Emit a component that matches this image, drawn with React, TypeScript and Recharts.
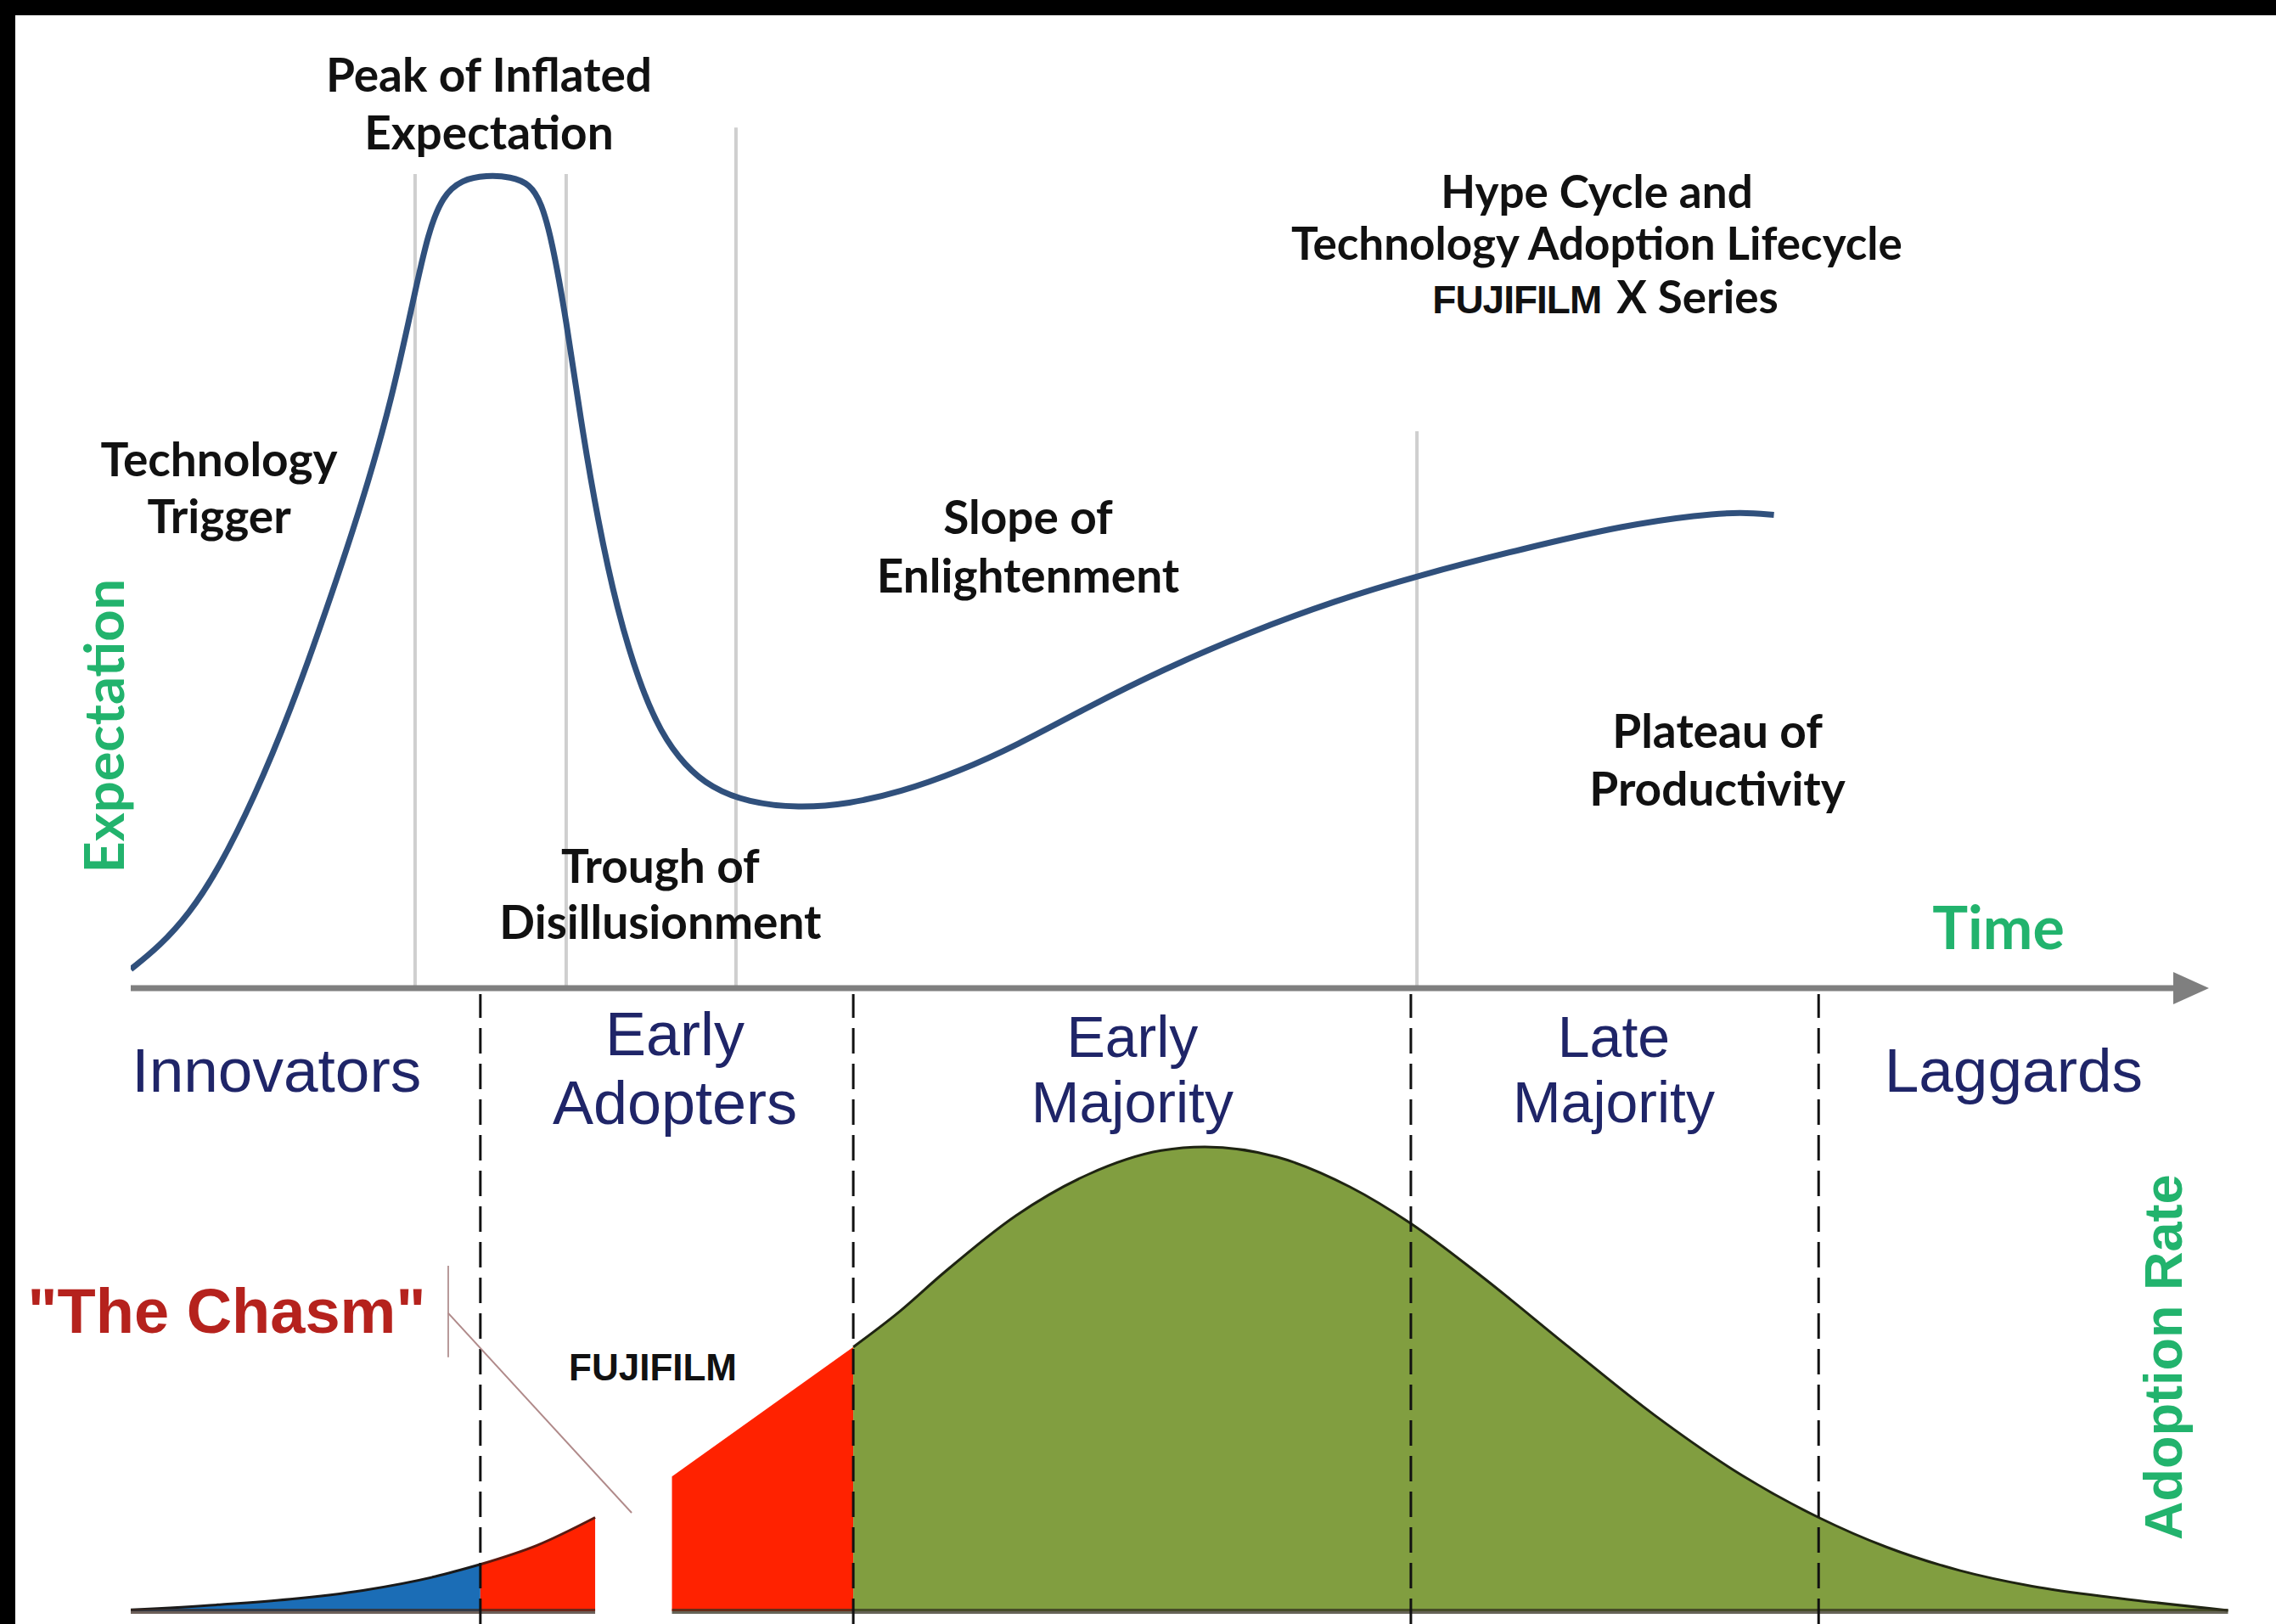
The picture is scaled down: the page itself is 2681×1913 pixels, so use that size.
import {
  LineChart,
  Line,
  AreaChart,
  Area,
  XAxis,
  YAxis,
  ReferenceLine,
  ReferenceDot,
} from "recharts";

// hype cycle curve (time units 0..100, expectation 0..110)
const hypeTime = [
  0, 1.38, 2.77, 4.15, 5.88, 7.61, 9.34, 11.07, 12.45, 13.49, 14.18, 14.87, 15.77, 16.95,
  18.12, 19.02, 19.57, 20.06, 20.75, 21.44, 22.27, 23.17, 24.21, 25.25, 26.42, 27.67, 29.4,
  31.82, 34.24, 36.66, 39.43, 42.19, 45.65, 49.11, 53.26, 57.41, 61.28, 66.4, 71.24, 74.7,
  76.78, 78.3,
];
const hypeExpectation = [
  2.32, 5.17, 9.09, 14.44, 23.36, 34.05, 46.54, 59.91, 72.39, 84.87, 92.89, 97.35, 99.31, 99.84,
  99.66, 98.78, 96.46, 92.0, 82.2, 69.72, 57.23, 46.54, 37.62, 31.38, 27.28, 24.61, 22.82,
  22.11, 22.64, 24.07, 26.57, 29.78, 34.59, 39.05, 43.68, 47.61, 50.64, 54.02, 56.88, 58.13,
  58.48, 58.13,
];

// adoption bell curve
const adoptionTime = [
  0, 4.15, 7.6, 11.06, 14.52, 16.66, 19.36, 22.13, 25.79, 34.43, 36.65, 38.72, 42.18, 45.64,
  49.1, 51.18, 54.64, 58.09, 61.0, 64.32, 68.47, 72.62, 76.77, 80.43, 83.68, 87.14, 90.6,
  94.75, 99.94,
];
const adoptionRate = [
  0.3, 1.4, 2.6, 4.5, 7.5, 10.1, 14.2, 20.2, 29.0, 56.9, 64.6, 72.8, 85.2, 94.1,
  99.2, 100, 97.8, 91.4, 83.5, 72.3, 57.1, 42.2, 29.3, 20.2, 13.8, 8.8, 5.4,
  2.8, 0.2,
];

const segmentStarts = [0, 16.66, 25.79, 34.43];
const segmentEnds = [16.66, 22.13, 34.43, 100];
const segmentFills = ["#1b6db6", "#ff2200", "#ff2200", "#819e40"];
const segmentStrokes = ["#1a1a1a", "#5a1a10", "none", "#1f2412"];
const segmentCurves = ["monotone", "monotone", "linear", "monotone"] as const;

const adopterBounds = [16.66, 34.43, 61.0, 80.43];
const phaseGuideTime = [13.55, 20.75, 28.84, 61.29];
const phaseGuideTop = [100, 100, 105.7, 68.4];

const hypeData = hypeTime.map((t, i) => ({ t, e: hypeExpectation[i] }));
const segmentData = segmentStarts.map((s, i) =>
  adoptionTime
    .map((t, j) => ({ t, v: adoptionRate[j] }))
    .filter((p) => p.t >= s && p.t <= segmentEnds[i])
);

const W = 2681;
const H = 1913;
const CALIBRI = "Lato, 'Open Sans', sans-serif";
const ARIAL = "'Liberation Sans', Arial, sans-serif";
const GREEN = "#22b36d";
const NAVY = "#1f2568";

function Note({
  viewBox,
  lines,
  size,
  lh = size * 1.4,
  color = "#111",
  weight = 700,
  family = CALIBRI,
  angle = 0,
}: any) {
  if (!viewBox) return null;
  const cx = viewBox.x + (viewBox.width || 0) / 2;
  const cy = viewBox.y + (viewBox.height || 0) / 2;
  const n = lines.length;
  return (
    <text
      textAnchor="middle"
      fill={color}
      fontSize={size}
      fontWeight={weight}
      fontFamily={family}
      transform={angle ? `rotate(${angle} ${cx} ${cy})` : undefined}
    >
      {lines.map((l: string, i: number) => (
        <tspan key={i} x={cx} y={cy + (i - (n - 1) / 2) * lh + size * 0.35}>
          {l}
        </tspan>
      ))}
    </text>
  );
}

function SeriesLine({ viewBox }: any) {
  if (!viewBox) return null;
  const cx = viewBox.x;
  const cy = viewBox.y;
  return (
    <text textAnchor="middle" x={cx} y={cy + 17} fill="#111" fontWeight={700}>
      <tspan fontFamily={ARIAL} fontSize={46} letterSpacing={-1}>FUJIFILM</tspan>
      <tspan fontFamily={CALIBRI} fontSize={53} dx={18}>X Series</tspan>
    </text>
  );
}

function AxisArrow(p: any) {
  const head = 42;
  const half = 19;
  return (
    <g>
      <line x1={p.x1} y1={p.y1} x2={p.x2 - head + 4} y2={p.y2} stroke="#7f7f7f" strokeWidth={7} />
      <polygon
        points={`${p.x2},${p.y2} ${p.x2 - head},${p.y2 - half} ${p.x2 - head},${p.y2 + half}`}
        fill="#7f7f7f"
      />
    </g>
  );
}

function note(x: number, y: number, props: any) {
  return (
    <ReferenceDot
      key={`${x}-${y}`}
      x={x}
      y={y}
      r={0}
      ifOverflow="visible"
      fill="none"
      stroke="none"
      label={(p: any) => <Note {...p} {...props} />}
    />
  );
}

export default function App() {
  return (
    <div style={{ position: "absolute", left: 0, top: 0, width: W, height: H, background: "#000", overflow: "hidden" }}>
      <div style={{ position: "absolute", left: 18, top: 18, width: W - 18, height: H - 18, background: "#fff" }} />

      <div style={{ position: "absolute", left: 0, top: 0 }}>
        <LineChart width={W} height={H} data={hypeData} margin={{ top: 109, right: 55, bottom: 749, left: 154 }}>
          <XAxis type="number" dataKey="t" domain={[0, 100]} allowDataOverflow hide />
          <YAxis type="number" domain={[0, 110]} allowDataOverflow hide />
          {phaseGuideTime.map((t, i) => (
            <ReferenceLine
              key={t}
              segment={[{ x: t, y: 0 }, { x: t, y: phaseGuideTop[i] }]}
              stroke="#cfcfcf"
              strokeWidth={4}
            />
          ))}
          <ReferenceLine segment={[{ x: 0, y: 0 }, { x: 99.03, y: 0 }]} shape={AxisArrow} />
          <Line
            type="basis"
            dataKey="e"
            stroke="#30507c"
            strokeWidth={7}
            dot={false}
            isAnimationActive={false}
          />
          {note(17.07, 108.55, { lines: ["Peak of Inflated", "Expectation"], size: 55, lh: 68 })}
          {note(4.21, 61.37, { lines: ["Technology", "Trigger"], size: 55, lh: 67 })}
          {note(25.24, 11.47, { lines: ["Trough of", "Disillusionment"], size: 55, lh: 66 })}
          {note(42.76, 54.17, { lines: ["Slope of", "Enlightenment"], size: 55, lh: 69 })}
          {note(75.61, 27.95, { lines: ["Plateau of", "Productivity"], size: 55, lh: 68 })}
          {note(69.86, 94.6, { lines: ["Hype Cycle and", "Technology Adoption Lifecycle"], size: 53, lh: 61 })}
          <ReferenceDot x={70.27} y={84.7} r={0} ifOverflow="visible" fill="none" stroke="none" label={(p: any) => <SeriesLine {...p} />} />
          {note(89.0, 7.3, { lines: ["Time"], size: 70, color: GREEN })}
          {note(-1.25, 32.2, { lines: ["Expectation"], size: 65, color: GREEN, angle: -90 })}
        </LineChart>
      </div>

      <div style={{ position: "absolute", left: 0, top: 0 }}>
        <AreaChart width={W} height={H} margin={{ top: 1171, right: 55, bottom: 0, left: 154 }}>
          <XAxis type="number" dataKey="t" domain={[0, 100]} allowDataOverflow hide />
          <YAxis type="number" domain={[-2.74, 132.9]} allowDataOverflow hide />
          {segmentData.map((d, i) => (
            <Area
              key={i}
              data={d}
              dataKey="v"
              type={segmentCurves[i]}
              baseValue={0}
              fill={segmentFills[i]}
              fillOpacity={1}
              stroke={segmentStrokes[i]}
              strokeWidth={3}
              isAnimationActive={false}
            />
          ))}
          <ReferenceLine segment={[{ x: 0, y: 0 }, { x: 22.13, y: 0 }]} stroke="#3b2a22" strokeOpacity={0.75} strokeWidth={6} />
          <ReferenceLine segment={[{ x: 25.79, y: 0 }, { x: 99.94, y: 0 }]} stroke="#33301f" strokeOpacity={0.75} strokeWidth={6} />
          {adopterBounds.map((b) => (
            <ReferenceLine key={b} x={b} stroke="#111" strokeWidth={3} strokeDasharray="30 12" />
          ))}
          <ReferenceLine segment={[{ x: 15.13, y: 74.4 }, { x: 15.13, y: 54.7 }]} stroke="#b89a9a" strokeWidth={2} />
          <ReferenceLine segment={[{ x: 15.13, y: 64.2 }, { x: 23.87, y: 21.2 }]} stroke="#b08a8a" strokeWidth={2} />
          {note(6.95, 116.6, { lines: ["Innovators"], size: 73, color: NAVY, weight: 400, family: ARIAL })}
          {note(25.93, 117.0, { lines: ["Early", "Adopters"], size: 72, lh: 81, color: NAVY, weight: 400, family: ARIAL })}
          {note(47.73, 116.7, { lines: ["Early", "Majority"], size: 68, lh: 77, color: NAVY, weight: 400, family: ARIAL })}
          {note(70.67, 116.7, { lines: ["Late", "Majority"], size: 68, lh: 77, color: NAVY, weight: 400, family: ARIAL })}
          {note(89.72, 116.6, { lines: ["Laggards"], size: 73, color: NAVY, weight: 400, family: ARIAL })}
          {note(4.57, 64.7, { lines: ['"The Chasm"'], size: 74, color: "#b5221d", family: ARIAL })}
          {note(24.88, 52.5, { lines: ["FUJIFILM"], size: 44, color: "#111", family: ARIAL })}
          {note(96.84, 54.7, { lines: ["Adoption Rate"], size: 63, color: GREEN, family: ARIAL, angle: -90 })}
        </AreaChart>
      </div>
    </div>
  );
}
